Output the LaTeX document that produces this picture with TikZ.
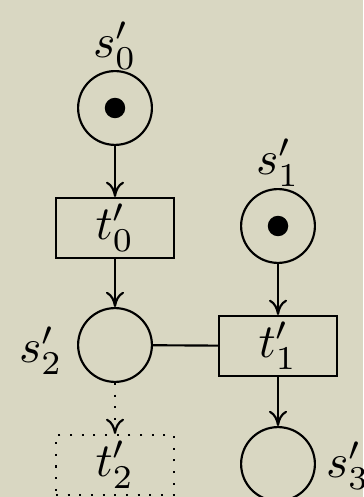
\documentclass[tikz,border=0pt]{standalone}
\usetikzlibrary{arrows.meta}
\definecolor{paper}{RGB}{217,215,194}
\begin{document}
\begin{tikzpicture}[x=0.21pt,y=-0.21pt,
  place/.style={circle,draw,line width=0.45pt,inner sep=0pt,minimum size=15.5pt},
  trans/.style={rectangle,draw,line width=0.45pt,inner sep=0pt,minimum width=24.8pt,minimum height=12.6pt},
  ghost/.style={rectangle,draw,dotted,line width=0.45pt,inner sep=0pt,minimum width=24.8pt,minimum height=12.6pt},
  token/.style={circle,fill,inner sep=0pt,minimum size=4.3pt},
  arc/.style={line width=0.45pt,-{To[length=3.2pt,width=3.8pt]}},
  plain/.style={line width=0.45pt},
  lbl/.style={inner sep=0pt}]
  % paper background and frame of the picture
  \fill[paper] (0,0) rectangle (363,497);
  \useasboundingbox (0,0) rectangle (363,497);

  % places
  \node[place] (s0) at (115,108) {};
  \node[place] (s1) at (278,226) {};
  \node[place] (s2) at (115,345) {};
  \node[place] (s3) at (278,464) {};
  \node[token] (k0) at (s0) {};
  \node[token] (k1) at (s1) {};

  % transitions
  \node[trans] (t0) at (115,228) {$t'_0$};
  \node[trans] (t1) at (278,346) {$t'_1$};
  \node[ghost] (t2) at (115,465) {$t'_2$};

  % place labels
  \node[lbl] (ls0) at (115,46) {$s'_0$};
  \node[lbl] (ls1) at (278,163) {$s'_1$};
  \node[lbl] (ls2) at (41,351) {$s'_2$};
  \node[lbl] (ls3) at (348,466) {$s'_3$};

  % arcs
  \draw[arc] (s0) -- (t0);
  \draw[arc] (t0) -- (s2);
  \draw[arc] (s1) -- (t1);
  \draw[arc] (t1) -- (s3);
  \draw[plain] (s2) -- (t1);
  \draw[arc,dotted] (s2) -- (t2);
\end{tikzpicture}
\end{document}
